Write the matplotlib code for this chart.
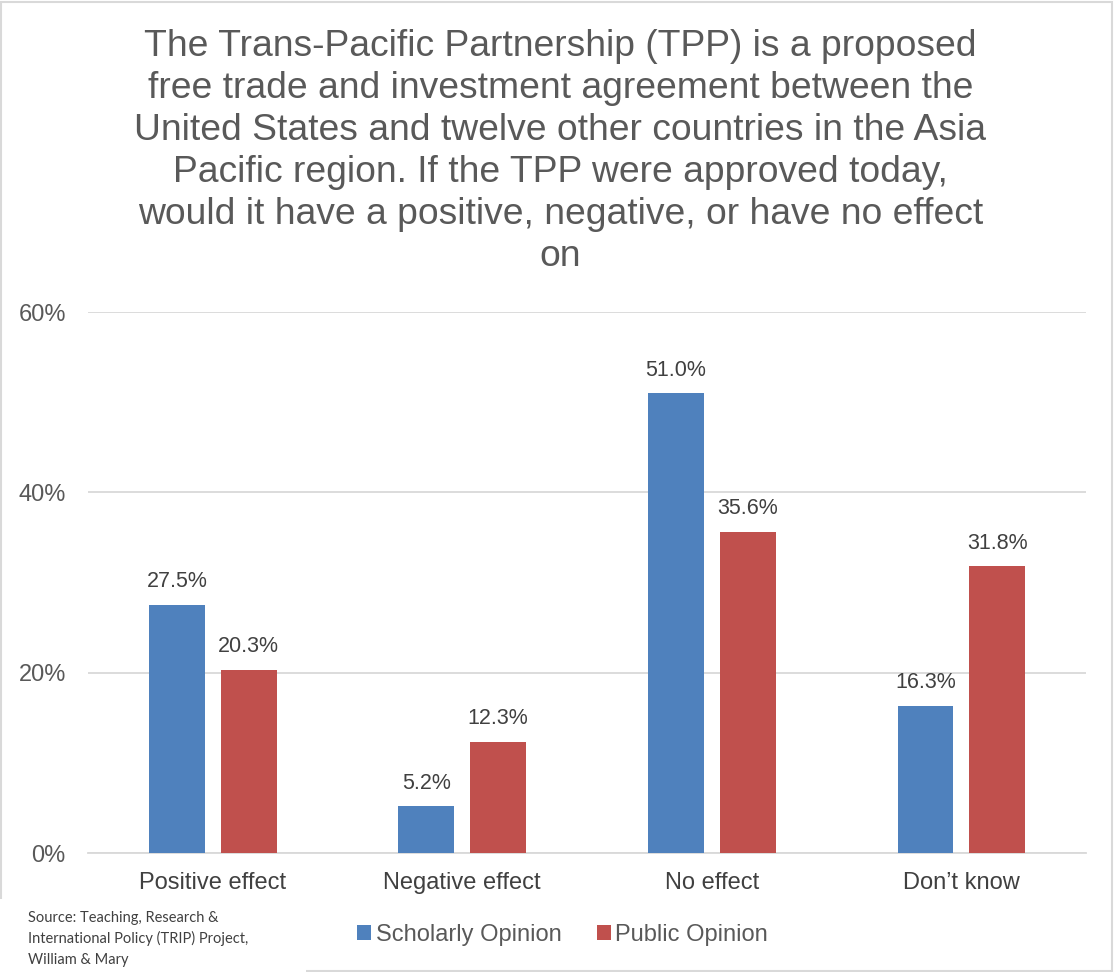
import matplotlib
matplotlib.use("Agg")
import matplotlib.pyplot as plt
import numpy as np
from matplotlib.patches import Rectangle

categories = ["Positive effect", "Negative effect", "No effect", "Don\u2019t know"]
scholarly = [27.5, 5.2, 51.0, 16.3]
public = [20.3, 12.3, 35.6, 31.8]
series_names = ["Scholarly Opinion", "Public Opinion"]
yticks = [0, 20, 40, 60]
title = ("The Trans-Pacific Partnership (TPP) is a proposed\n"
         "free trade and investment agreement between the\n"
         "United States and twelve other countries in the Asia\n"
         "Pacific region. If the TPP were approved today,\n"
         "would it have a positive, negative, or have no effect\n"
         "on")
source = "Source: Teaching, Research &\nInternational Policy (TRIP) Project,\nWilliam & Mary"

plt.rcParams['font.family'] = ['Liberation Sans', 'DejaVu Sans']
blue = "#4F81BD"
red = "#C0504D"
gray = "#595959"

fig = plt.figure(figsize=(11.14, 9.72), dpi=100)
fig.patch.set_facecolor("white")
fig.add_artist(Rectangle((0.001, 0.001), 0.997, 0.997, transform=fig.transFigure,
                         fill=False, edgecolor="#D9D9D9", linewidth=1.5))

ax = fig.add_axes([0.079, 0.1224, 0.896, 0.5566])
x = np.arange(len(categories))
w = 0.224
off = 0.144
b1 = ax.bar(x - off, scholarly, w, color=blue, label=series_names[0], zorder=3)
b2 = ax.bar(x + off, public, w, color=red, label=series_names[1], zorder=3)
for bars, vals in ((b1, scholarly), (b2, public)):
    for r, v in zip(bars, vals):
        ax.text(r.get_x() + r.get_width() / 2, v + 1.4, f"{v:.1f}%", ha="center",
                va="bottom", fontsize=15.5, color="#404040")

ax.set_xlim(-0.5, 3.5)
ax.set_ylim(0, 60)
ax.set_yticks(yticks)
ax.set_yticklabels([f"{t}%" for t in yticks], fontsize=17, color=gray)
ax.set_xticks(x)
ax.set_xticklabels(categories, fontsize=17, color="#404040")
ax.tick_params(axis="both", length=0)
ax.tick_params(axis="y", pad=16)
ax.tick_params(axis="x", pad=14)
ax.grid(axis="y", color="#D9D9D9", linewidth=1.3, zorder=0)
for s in ["top", "right", "left"]:
    ax.spines[s].set_visible(False)
ax.spines["bottom"].set_color("#D9D9D9")
ax.spines["bottom"].set_linewidth(1.3)

fig.text(0.503, 0.970, title, ha="center", va="top", fontsize=26.8, color=gray,
         linespacing=1.26)

leg = fig.legend(handles=[b1, b2], loc="center", bbox_to_anchor=(0.505, 0.0385),
                 ncol=2, frameon=False, fontsize=17, handlelength=0.6, handleheight=0.6,
                 handletextpad=0.2, columnspacing=1.48)
for t in leg.get_texts():
    t.set_color(gray)

fig.add_artist(Rectangle((0.0, 0.0), 0.275, 0.075, transform=fig.transFigure,
                         facecolor="white", edgecolor="none", zorder=5))
fig.text(0.025, 0.063, source, ha="left", va="top", fontsize=10.5, color="#404040",
         family=["Lato", "DejaVu Sans"], linespacing=1.55, zorder=6)

fig.savefig("out.png", dpi=100)
